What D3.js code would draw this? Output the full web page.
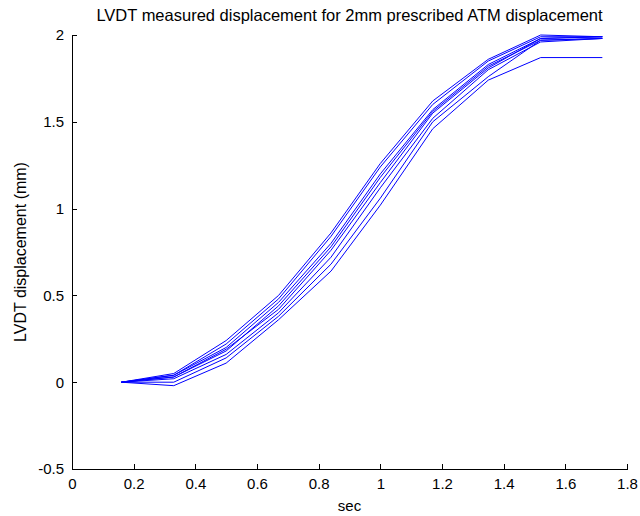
<!DOCTYPE html>
<html>
<head>
<meta charset="utf-8">
<script src="https://cdn.jsdelivr.net/npm/d3@7"></script>
<style>
  body { margin: 0; background: #fff; }
  text { font-family: "Liberation Sans", Arial, sans-serif; fill: #000; }
</style>
</head>
<body>
<svg id="chart" width="640" height="516"></svg>
<script>
// LVDT runs, sampled roughly every 1/6 s
var times = [0.16, 0.33, 0.5, 0.67, 0.84, 1.0, 1.17, 1.35, 1.52, 1.72];
var run1 = [0, 0.04, 0.22, 0.48, 0.84, 1.24, 1.60, 1.85, 1.99, 1.99];
var run2 = [0, 0.04, 0.20, 0.46, 0.80, 1.20, 1.57, 1.83, 1.98, 1.99];
var run3 = [0, 0.03, 0.18, 0.44, 0.78, 1.18, 1.56, 1.82, 1.97, 1.98];
var run4 = [0, 0.05, 0.24, 0.50, 0.86, 1.26, 1.62, 1.86, 2.00, 1.99];
var run5 = [0, 0.02, 0.16, 0.40, 0.72, 1.12, 1.52, 1.80, 1.96, 1.98];
var run6 = [0, 0.00, 0.14, 0.38, 0.68, 1.06, 1.50, 1.76, 1.97, 1.98];
var run7 = [0, -0.02, 0.11, 0.36, 0.64, 1.02, 1.46, 1.74, 1.87, 1.87];
var run8 = [0, 0.03, 0.19, 0.42, 0.76, 1.15, 1.55, 1.81, 1.98, 1.99];
var runs = [run1, run2, run3, run4, run5, run6, run7, run8];

var xTicks = [0, 0.2, 0.4, 0.6, 0.8, 1, 1.2, 1.4, 1.6, 1.8];
var yTicks = [-0.5, 0, 0.5, 1, 1.5, 2];

var titleTxt = "LVDT measured displacement for 2mm prescribed ATM displacement";
var xLabel = "sec";
var yLabel = "LVDT displacement (mm)";

var mLeft = 72, mRight = 627, mTop = 35, mBottom = 469;

var svg = d3.select("#chart");

var x = d3.scaleLinear().domain([0, 1.8]).range([mLeft, mRight]);
var y = d3.scaleLinear().domain([-0.5, 2]).range([mBottom, mTop]);

// matlab prints a plain hyphen for negatives
var fmt = function (d) { return String(d); };

// axes, MATLAB style: ticks point inward
var xAxis = d3.axisBottom(x).tickValues(xTicks).tickSizeInner(-5).tickSizeOuter(0)
  .tickPadding(9).tickFormat(fmt);
var yAxis = d3.axisLeft(y).tickValues(yTicks).tickSizeInner(-5).tickSizeOuter(0)
  .tickPadding(8).tickFormat(fmt);

var gx = svg.append("g").attr("transform", "translate(0," + mBottom + ")").call(xAxis);
var gy = svg.append("g").attr("transform", "translate(" + mLeft + ",0)").call(yAxis);

[gx, gy].forEach(function (g) {
  g.selectAll("path, line").attr("stroke", "#000").attr("shape-rendering", "crispEdges");
  g.selectAll("text").style("font-size", "15px").attr("fill", "#000");
});

var line = d3.line()
  .x(function (d) { return x(d[0]); })
  .y(function (d) { return y(d[1]); });

svg.append("g").selectAll("path")
  .data(runs)
  .join("path")
  .attr("d", function (r) { return line(r.map(function (v, i) { return [times[i], v]; })); })
  .attr("fill", "none")
  .attr("stroke", "#0000ff")
  .attr("stroke-width", 1);

svg.append("text")
  .attr("x", (mLeft + mRight) / 2).attr("y", 21)
  .attr("text-anchor", "middle")
  .style("font-size", "16.5px")
  .text(titleTxt);

svg.append("text")
  .attr("x", (mLeft + mRight) / 2).attr("y", 511)
  .attr("text-anchor", "middle")
  .style("font-size", "15px")
  .text(xLabel);

svg.append("text")
  .attr("transform", "translate(26," + (mTop + mBottom) / 2 + ") rotate(-90)")
  .attr("text-anchor", "middle")
  .style("font-size", "16px")
  .text(yLabel);
</script>
</body>
</html>
